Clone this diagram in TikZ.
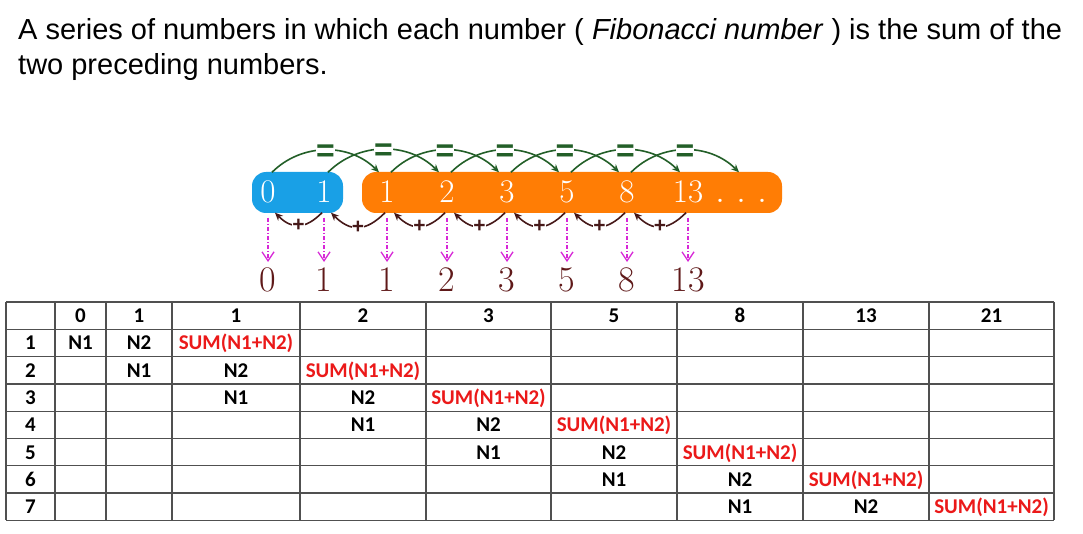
\documentclass[tikz,border=0pt]{standalone}
\usepackage{fontspec}
\newfontfamily\ttlfont{Liberation Sans}
\newfontfamily\tabfont{Carlito}
\usetikzlibrary{arrows.meta,positioning,calc}
\definecolor{barblue}{RGB}{25,160,230}
\definecolor{barorange}{RGB}{255,125,5}
\definecolor{eqgreen}{RGB}{35,95,40}
\definecolor{plusbrown}{RGB}{70,25,25}
\definecolor{numbrown}{RGB}{95,25,25}
\definecolor{pickmag}{RGB}{215,40,215}
\definecolor{sumred}{RGB}{235,25,25}
\definecolor{gridgray}{RGB}{80,80,80}
\tikzset{
  ttl/.style     ={font=\ttlfont\fontsize{29}{35}\selectfont, anchor=base west, inner sep=0pt},
  barnum/.style  ={font=\fontsize{33}{33}\selectfont, text=white, minimum height=40pt, inner sep=0pt,
                   text height=21pt, text depth=0pt},
  outnum/.style  ={font=\fontsize{36}{36}\selectfont, text=numbrown, anchor=base, inner sep=0pt},
  eqarc/.style   ={-{Stealth[length=8pt,width=7pt]}, eqgreen, line width=1.6pt, out=45, in=135},
  plusarc/.style ={-{Stealth[length=8pt,width=7pt]}, plusbrown, line width=1.6pt,
                   out=-135, in=-45, looseness=1.3},
  opsign/.style  ={font=\ttlfont\bfseries\fontsize{32}{32}\selectfont, fill=white, inner sep=0pt},
  pick/.style    ={-{Straight Barb[length=9pt,width=12pt]}, pickmag, line width=1.3pt,
                   dash pattern=on 4pt off 2pt on 1.2pt off 2pt, shorten <=5pt, shorten >=6pt},
  cell/.style    ={font=\tabfont\bfseries\fontsize{21}{21}\selectfont, anchor=base, inner sep=0pt},
  sumcell/.style ={cell, text=sumred},
  tabline/.style ={gridgray, line width=1.3pt},
}

\begin{document}
\begin{tikzpicture}[x=1pt,y=1pt]

\path[use as bounding box, fill=white] (0,0) rectangle (1083,-534);

% heading
\node[ttl] (ttl1) at (18,-40) {A series of numbers in which each number ( \textit{Fibonacci number} ) is the sum of the};
\node[ttl] (ttl2) at ([yshift=-35pt]ttl1.base west) {two preceding numbers.};

% coloured bars
\fill[barblue, rounded corners=14pt] (252,-172) rectangle (343,-213);
\fill[barorange, rounded corners=14pt] (362,-172) rectangle (782,-213);

\foreach \x/\t [count=\i] in {268/0,324/1,387/1,447/2,507/3,567/5,627/8,688/13}{
  \node[barnum] (b\i) at (\x,-192.5) {\t};
  \node[outnum] (o\i) at (\x,-292) {\t};
}
\node[barnum, font=\fontsize{40}{40}\selectfont] (bdots) at (741,-192.5) {.\hspace{11pt}.\hspace{11pt}.};

% = arcs on top
\foreach \i [count=\j from 3] in {1,...,6}
  \draw[eqarc] ([xshift=4pt]b\i.north) to node[opsign, yshift=-3pt, text=eqgreen]{=} ([xshift=-8pt]b\j.north);
\draw[eqarc] ([xshift=4pt]b7.north) to node[opsign, yshift=-3pt, text=eqgreen]{=} ([xshift=-2pt]bdots.north);

% + arcs below
\foreach \i [count=\j from 2] in {1,...,7}
  \draw[plusarc] ([xshift=-2pt]b\j.south) to node[opsign, font=\ttlfont\bfseries\fontsize{21}{21}\selectfont, text=plusbrown]{+} ([xshift=7pt]b\i.south);

\foreach \i in {1,...,8}
  \draw[pick] (b\i.south) -- (o\i.north);

% table
\foreach \x in {6,55,106,172,300,426,551,677,803,929,1054}
  \draw[tabline] (\x,-302) -- (\x,-520.4);
\foreach \r in {0,...,8}
  \draw[tabline] (6,-302-27.3*\r) -- (1054,-302-27.3*\r);

\foreach \x/\t [count=\c] in {80.5/0,139/1,236/1,363/2,488.5/3,614/5,740/8,866/13,991.5/21}
  \node[cell] (h\c) at (\x,-322.5) {\t};
\foreach \r in {1,...,7}
  \node[cell] (r\r) at (30.5,{-322.5-27.3*\r}) {\r};

\foreach \r in {1,...,7}{
  \pgfmathtruncatemacro\cb{\r+1}
  \pgfmathtruncatemacro\cc{\r+2}
  \node[cell] (na\r) at (h\r.base |- r\r.base) {N1};
  \node[cell] (nb\r) at (h\cb.base |- r\r.base) {N2};
  \node[sumcell] (s\r) at (h\cc.base |- r\r.base) {SUM(N1+N2)};
}

\end{tikzpicture}
\end{document}
